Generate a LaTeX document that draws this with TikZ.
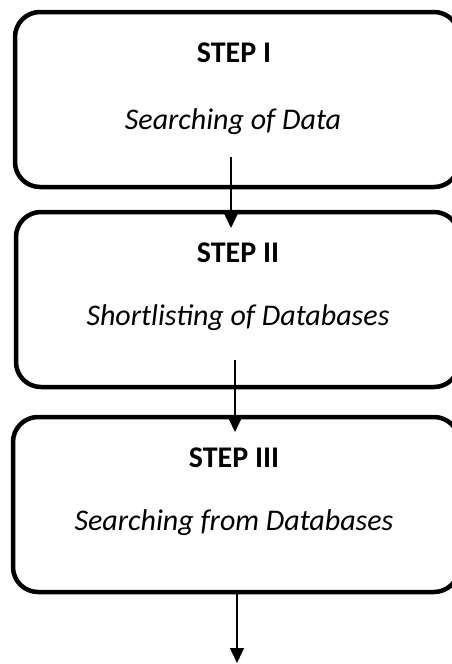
\documentclass[tikz,border=0pt]{standalone}
\usepackage{fontspec}
\setmainfont{Carlito}
\usetikzlibrary{arrows.meta}
\begin{document}
\begin{tikzpicture}[x=1pt,y=-1pt,
  stepbox/.style={draw=black,line width=4.5pt,rounded corners=25pt,inner sep=0pt},
  title/.style={font=\fontsize{30}{36}\selectfont\bfseries,anchor=center},
  sub/.style={font=\fontsize{30}{36}\selectfont\itshape,anchor=center},
  arr/.style={line width=1.5pt,-{Triangle[width=14pt,length=15pt]}}]
\useasboundingbox (0,0) rectangle (451,664);
\node[stepbox,minimum width=444pt,minimum height=175pt] (b1) at (237,99.5) {};
\node[stepbox,minimum width=443pt,minimum height=175pt] (b2) at (237.5,299.5) {};
\node[stepbox,minimum width=446pt,minimum height=175pt] (b3) at (236,504.5) {};
\node[title] (t1) at (234,53) {STEP I};
\node[sub] (s1) at (233,122) {Searching of Data};
\node[title] (t2) at (238,253) {STEP II};
\node[sub] (s2) at (238,318) {Shortlisting of Databases};
\node[title] (t3) at (234,458) {STEP III};
\node[sub] (s3) at (234,523) {Searching from Databases};
\coordinate (a1s) at (231,157);
\coordinate (a1e) at (231,228);
\coordinate (a2s) at (235,360);
\coordinate (a2e) at (235,432);
\coordinate (a3s) at (237,592);
\coordinate (a3e) at (237,663);
\draw[arr] (a1s) -- (a1e);
\draw[arr] (a2s) -- (a2e);
\draw[arr] (a3s) -- (a3e);
\end{tikzpicture}
\end{document}
